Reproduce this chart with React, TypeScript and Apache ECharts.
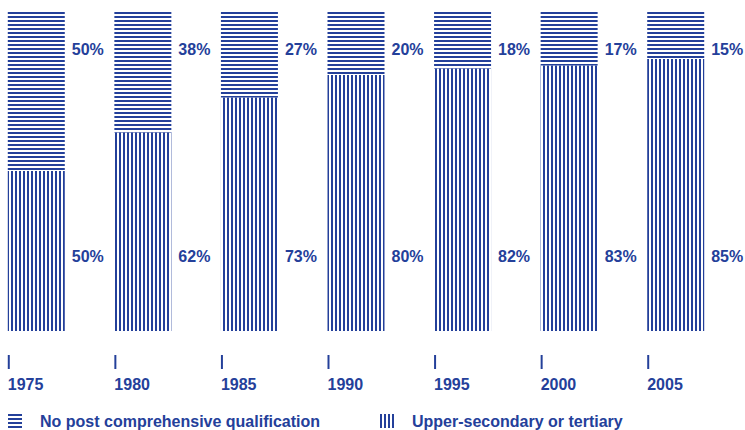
import React, { useEffect, useRef } from "react";
import * as echarts from "echarts";

const categories = ["1975", "1980", "1985", "1990", "1995", "2000", "2005"];
const upperSecondary = [50, 62, 73, 80, 82, 83, 85];
const noPost = [50, 38, 27, 20, 18, 17, 15];
const seriesNames = ["No post comprehensive qualification", "Upper-secondary or tertiary"];

const BLUE = "#24409a";
const FONT = "'Liberation Sans', Arial, sans-serif";
const SHIFT = 17;

function makePattern(horizontal: boolean) {
  const c = document.createElement("canvas");
  c.width = 4;
  c.height = 4;
  const ctx = c.getContext("2d")!;
  ctx.fillStyle = "#ffffff";
  ctx.fillRect(0, 0, 4, 4);
  ctx.fillStyle = BLUE;
  if (horizontal) ctx.fillRect(0, 0, 4, 2);
  else ctx.fillRect(0, 0, 2, 4);
  return { image: c, repeat: "repeat" as const };
}

export default function App() {
  const ref = useRef<HTMLDivElement>(null);
  useEffect(() => {
    if (!ref.current) return;
    const chart = echarts.init(ref.current, null, { renderer: "svg" });
    const hPat = makePattern(true);
    const vPat = makePattern(false);
    const labelBase = {
      show: true,
      formatter: "{c}%",
      color: BLUE,
      fontFamily: FONT,
      fontWeight: "bold" as const,
      fontSize: 16,
      align: "left" as const,
      verticalAlign: "middle" as const,
    };
    const legendText = {
      color: BLUE,
      fontFamily: FONT,
      fontWeight: "bold" as const,
      fontSize: 16,
      rich: {
        s: { width: 13, fontSize: 16 },
        n: { color: BLUE, fontFamily: FONT, fontWeight: "bold" as const, fontSize: 16 },
      },
    };
    const legendBase = {
      top: 413,
      padding: 0,
      icon: "rect",
      itemWidth: 14,
      itemHeight: 14,
      formatter: (n: string) => "{s|}{n|" + n + "}",
      textStyle: legendText,
    };
    chart.setOption({
      animation: false,
      grid: { left: 0, right: 16, top: 11, bottom: 99 },
      xAxis: {
        type: "category",
        data: categories,
        axisLine: { show: false },
        axisTick: { show: false },
        axisLabel: {
          margin: 24,
          align: "center",
          width: 57,
          overflow: "none",
          formatter: (v: string) => "{t|}{p|}\n{y|" + v + "}",
          rich: {
            t: { width: 2, height: 14, backgroundColor: BLUE, align: "left" },
            p: { width: 55, height: 14, align: "left" },
            y: {
              width: 57,
              align: "left",
              color: BLUE,
              fontFamily: FONT,
              fontWeight: "bold",
              fontSize: 16,
              lineHeight: 23,
              verticalAlign: "bottom",
            },
          },
        },
      },
      yAxis: { type: "value", min: 0, max: 100, show: false, splitLine: { show: false } },
      legend: [
        { ...legendBase, data: [seriesNames[0]], left: 8 + SHIFT },
        { ...legendBase, data: [seriesNames[1]], left: 380 + SHIFT },
      ],
      series: [
        {
          name: seriesNames[1],
          type: "bar",
          stack: "total",
          barWidth: 57,
          data: upperSecondary,
          itemStyle: { color: vPat },
          label: { ...labelBase, position: ["100%", "100%"], offset: [7, -75] },
        },
        {
          name: seriesNames[0],
          type: "bar",
          stack: "total",
          barWidth: 57,
          data: noPost,
          itemStyle: { color: hPat },
          label: { ...labelBase, position: ["100%", 0], offset: [7, 38.5] },
        },
      ],
    });
    return () => chart.dispose();
  }, []);
  return (
    <div
      ref={ref}
      style={{ position: "absolute", left: -SHIFT, top: 0, width: 745 + SHIFT, height: 430 }}
    />
  );
}
